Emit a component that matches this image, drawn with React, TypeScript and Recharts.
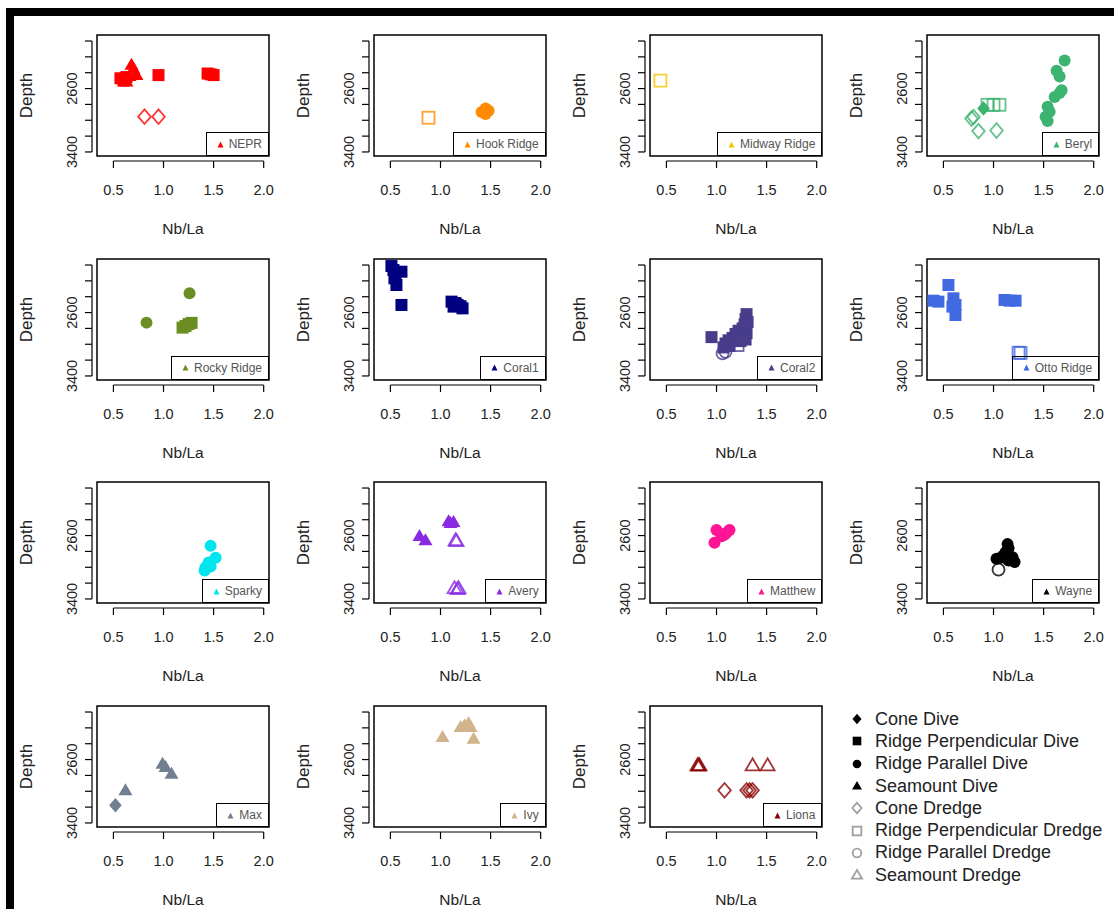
import React from "react";
import { ScatterChart, Scatter, XAxis, YAxis, ReferenceArea, Label } from "recharts";

type Pt = { x: number; y: number; k: string };

// symbol kinds, in legend order
const KINDS = [
  { id: "coneDive", shape: "diamond", filled: true, label: "Cone Dive" },
  { id: "perpDive", shape: "square", filled: true, label: "Ridge Perpendicular Dive" },
  { id: "parDive", shape: "circle", filled: true, label: "Ridge Parallel Dive" },
  { id: "smtDive", shape: "triangle", filled: true, label: "Seamount Dive" },
  { id: "coneDr", shape: "diamond", filled: false, label: "Cone Dredge" },
  { id: "perpDr", shape: "square", filled: false, label: "Ridge Perpendicular Dredge" },
  { id: "parDr", shape: "circle", filled: false, label: "Ridge Parallel Dredge" },
  { id: "smtDr", shape: "triangle", filled: false, label: "Seamount Dredge" },
];

const X_TICKS = [0.5, 1.0, 1.5, 2.0];
const Y_TICKS = [2000, 2200, 2400, 2600, 2800, 3000, 3200, 3400];
const Y_LABELED = [2600, 3400];

const NEPR: Pt[] = [
  { x: 0.57, y: 2470, k: "perpDive" }, { x: 0.6, y: 2500, k: "perpDive" }, { x: 0.63, y: 2455, k: "perpDive" },
  { x: 0.95, y: 2430, k: "perpDive" }, { x: 1.44, y: 2410, k: "perpDive" }, { x: 1.47, y: 2420, k: "perpDive" },
  { x: 1.5, y: 2430, k: "perpDive" },
  { x: 0.68, y: 2300, k: "smtDive" }, { x: 0.7, y: 2350, k: "smtDive" }, { x: 0.63, y: 2510, k: "smtDive" },
  { x: 0.73, y: 2430, k: "smtDive" }, { x: 0.66, y: 2440, k: "smtDive" },
  { x: 0.81, y: 2955, k: "coneDr" }, { x: 0.95, y: 2955, k: "coneDr" },
];
const HOOK: Pt[] = [
  { x: 0.88, y: 2968, k: "perpDr" },
  { x: 1.41, y: 2895, k: "parDive" }, { x: 1.45, y: 2850, k: "parDive" }, { x: 1.48, y: 2880, k: "parDive" },
  { x: 1.45, y: 2920, k: "parDive" },
];
const MIDWAY: Pt[] = [{ x: 0.44, y: 2500, k: "perpDr" }];
const BERYL: Pt[] = [
  { x: 1.71, y: 2247, k: "parDive" }, { x: 1.63, y: 2376, k: "parDive" }, { x: 1.66, y: 2449, k: "parDive" },
  { x: 1.66, y: 2655, k: "parDive" }, { x: 1.68, y: 2620, k: "parDive" }, { x: 1.61, y: 2707, k: "parDive" },
  { x: 1.54, y: 2828, k: "parDive" }, { x: 1.56, y: 2892, k: "parDive" }, { x: 1.52, y: 2956, k: "parDive" },
  { x: 1.54, y: 3008, k: "parDive" },
  { x: 0.9, y: 2850, k: "coneDive" },
  { x: 0.78, y: 2978, k: "coneDr" }, { x: 0.8, y: 2960, k: "coneDr" }, { x: 0.85, y: 3137, k: "coneDr" },
  { x: 1.03, y: 3129, k: "coneDr" },
  { x: 0.94, y: 2805, k: "perpDr" }, { x: 1.0, y: 2805, k: "perpDr" }, { x: 1.06, y: 2805, k: "perpDr" },
];
const ROCKY: Pt[] = [
  { x: 1.26, y: 2357, k: "parDive" }, { x: 0.83, y: 2727, k: "parDive" },
  { x: 1.19, y: 2790, k: "perpDive" }, { x: 1.22, y: 2770, k: "perpDive" }, { x: 1.25, y: 2745, k: "perpDive" },
  { x: 1.28, y: 2730, k: "perpDive" },
];
const CORAL1: Pt[] = [
  { x: 0.51, y: 2013, k: "perpDive" }, { x: 0.53, y: 2063, k: "perpDive" }, { x: 0.55, y: 2105, k: "perpDive" },
  { x: 0.61, y: 2084, k: "perpDive" }, { x: 0.54, y: 2168, k: "perpDive" }, { x: 0.56, y: 2252, k: "perpDive" },
  { x: 0.61, y: 2504, k: "perpDive" }, { x: 1.11, y: 2462, k: "perpDive" }, { x: 1.15, y: 2480, k: "perpDive" },
  { x: 1.17, y: 2504, k: "perpDive" }, { x: 1.22, y: 2547, k: "perpDive" }, { x: 1.13, y: 2525, k: "perpDive" },
  { x: 1.2, y: 2520, k: "perpDive" },
];
const CORAL2: Pt[] = [
  { x: 0.95, y: 2910, k: "perpDive" }, { x: 1.07, y: 3040, k: "perpDive" }, { x: 1.09, y: 2990, k: "perpDive" },
  { x: 1.12, y: 2950, k: "perpDive" }, { x: 1.16, y: 2920, k: "perpDive" }, { x: 1.19, y: 2870, k: "perpDive" },
  { x: 1.22, y: 2830, k: "perpDive" }, { x: 1.26, y: 2800, k: "perpDive" }, { x: 1.28, y: 2750, k: "perpDive" },
  { x: 1.29, y: 2680, k: "perpDive" }, { x: 1.3, y: 2620, k: "perpDive" }, { x: 1.31, y: 2720, k: "perpDive" },
  { x: 1.3, y: 2860, k: "perpDive" }, { x: 1.29, y: 2940, k: "perpDive" }, { x: 1.13, y: 3020, k: "perpDive" },
  { x: 1.24, y: 2960, k: "perpDive" },
  { x: 1.21, y: 3010, k: "perpDr" },
  { x: 1.06, y: 3115, k: "parDr" }, { x: 1.09, y: 3095, k: "parDr" },
];
const OTTO: Pt[] = [
  { x: 0.4, y: 2450, k: "perpDive" }, { x: 0.45, y: 2462, k: "perpDive" }, { x: 0.55, y: 2252, k: "perpDive" },
  { x: 0.6, y: 2420, k: "perpDive" }, { x: 0.62, y: 2504, k: "perpDive" }, { x: 0.59, y: 2525, k: "perpDive" },
  { x: 0.62, y: 2631, k: "perpDive" }, { x: 1.11, y: 2441, k: "perpDive" }, { x: 1.16, y: 2450, k: "perpDive" },
  { x: 1.22, y: 2450, k: "perpDive" },
  { x: 1.25, y: 3106, k: "perpDr" }, { x: 1.27, y: 3110, k: "perpDr" },
];
const SPARKY: Pt[] = [
  { x: 1.47, y: 2730, k: "parDive" }, { x: 1.52, y: 2880, k: "parDive" }, { x: 1.45, y: 2940, k: "parDive" },
  { x: 1.42, y: 3000, k: "parDive" }, { x: 1.41, y: 3040, k: "parDive" }, { x: 1.47, y: 2990, k: "parDive" },
];
const AVERY: Pt[] = [
  { x: 0.79, y: 2605, k: "smtDive" }, { x: 0.85, y: 2659, k: "smtDive" }, { x: 1.08, y: 2420, k: "smtDive" },
  { x: 1.1, y: 2440, k: "smtDive" }, { x: 1.13, y: 2430, k: "smtDive" },
  { x: 1.15, y: 2659, k: "smtDr" }, { x: 1.16, y: 2670, k: "smtDr" }, { x: 1.14, y: 3264, k: "smtDr" },
  { x: 1.17, y: 3277, k: "smtDr" }, { x: 1.18, y: 3264, k: "smtDr" },
];
const MATTHEW: Pt[] = [
  { x: 0.98, y: 2690, k: "parDive" }, { x: 1.0, y: 2530, k: "parDive" }, { x: 1.05, y: 2610, k: "parDive" },
  { x: 1.1, y: 2565, k: "parDive" }, { x: 1.13, y: 2530, k: "parDive" }, { x: 1.08, y: 2590, k: "parDive" },
];
const WAYNE: Pt[] = [
  { x: 1.14, y: 2708, k: "parDive" }, { x: 1.12, y: 2811, k: "parDive" }, { x: 1.03, y: 2894, k: "parDive" },
  { x: 1.19, y: 2873, k: "parDive" }, { x: 1.21, y: 2935, k: "parDive" }, { x: 1.15, y: 2914, k: "parDive" },
  { x: 1.07, y: 2880, k: "parDive" }, { x: 1.1, y: 2850, k: "parDive" }, { x: 1.15, y: 2760, k: "parDive" },
  { x: 1.05, y: 3030, k: "parDr" },
];
const MAX: Pt[] = [
  { x: 0.52, y: 3177, k: "coneDive" },
  { x: 0.62, y: 2988, k: "smtDive" }, { x: 0.99, y: 2652, k: "smtDive" }, { x: 1.02, y: 2694, k: "smtDive" },
  { x: 1.08, y: 2778, k: "smtDive" },
];
const IVY: Pt[] = [
  { x: 1.02, y: 2315, k: "smtDive" }, { x: 1.2, y: 2189, k: "smtDive" }, { x: 1.24, y: 2168, k: "smtDive" },
  { x: 1.28, y: 2139, k: "smtDive" }, { x: 1.3, y: 2189, k: "smtDive" }, { x: 1.33, y: 2336, k: "smtDive" },
];
const LIONA: Pt[] = [
  { x: 0.81, y: 2673, k: "smtDr" }, { x: 0.82, y: 2673, k: "smtDr" }, { x: 0.83, y: 2673, k: "smtDr" },
  { x: 1.36, y: 2673, k: "smtDr" }, { x: 1.51, y: 2673, k: "smtDr" },
  { x: 1.08, y: 2988, k: "coneDr" }, { x: 1.3, y: 2988, k: "coneDr" }, { x: 1.33, y: 2988, k: "coneDr" },
  { x: 1.36, y: 2988, k: "coneDr" },
];

const SITES = [
  { name: "NEPR", color: "#FF0000", points: NEPR },
  { name: "Hook Ridge", color: "#FF8C00", points: HOOK },
  { name: "Midway Ridge", color: "#F2C500", points: MIDWAY },
  { name: "Beryl", color: "#3CB371", points: BERYL },
  { name: "Rocky Ridge", color: "#6B8E23", points: ROCKY },
  { name: "Coral1", color: "#000080", points: CORAL1 },
  { name: "Coral2", color: "#483D8B", points: CORAL2 },
  { name: "Otto Ridge", color: "#4169E1", points: OTTO },
  { name: "Sparky", color: "#00E5EE", points: SPARKY },
  { name: "Avery", color: "#8A2BE2", points: AVERY },
  { name: "Matthew", color: "#FF1493", points: MATTHEW },
  { name: "Wayne", color: "#000000", points: WAYNE },
  { name: "Max", color: "#708090", points: MAX },
  { name: "Ivy", color: "#D2B48C", points: IVY },
  { name: "Liona", color: "#8B0000", points: LIONA },
];

const FONT = "'Liberation Sans', Arial, sans-serif";
const X_DOMAIN: [number, number] = [0.336, 2.053];
const Y_DOMAIN: [number, number] = [1924, 3451];
const PLOT_W = 172;
const PLOT_H = 121;
const CHART_W = 277;
const CHART_H = 224;
const MARGIN = { top: 20, right: 25, bottom: 0, left: 20 };
const X_STEP = (PLOT_W / (X_DOMAIN[1] - X_DOMAIN[0])) * 0.5;
const Y_STEP = (PLOT_H / (Y_DOMAIN[1] - Y_DOMAIN[0])) * 200;
const GAP = 5;
const TICK = 7;

const Marker = ({ cx, cy, shape, filled, color, scale = 1 }: any) => {
  const fill = filled ? color : "none";
  const stroke = color;
  const sw = filled ? 0 : 1.8;
  const op = filled ? 1 : 0.8;
  if (shape === "diamond") {
    const a = 6.3 * scale, b = 7.3 * scale;
    return <polygon points={`${cx},${cy - b} ${cx + a},${cy} ${cx},${cy + b} ${cx - a},${cy}`} fill={fill} stroke={stroke} strokeWidth={sw} strokeOpacity={op} />;
  }
  if (shape === "square") {
    const h = 6 * scale;
    return <rect x={cx - h} y={cy - h} width={2 * h} height={2 * h} fill={fill} stroke={stroke} strokeWidth={sw} strokeOpacity={op} />;
  }
  if (shape === "circle") {
    return <circle cx={cx} cy={cy} r={6 * scale} fill={fill} stroke={stroke} strokeWidth={sw} strokeOpacity={op} />;
  }
  const w = 7 * scale;
  return <polygon points={`${cx},${cy - 7 * scale} ${cx - w},${cy + 5 * scale} ${cx + w},${cy + 5 * scale}`} fill={fill} stroke={stroke} strokeWidth={sw} strokeOpacity={op} strokeLinejoin="miter" />;
};

const XTick = ({ x, y, payload }: any) => {
  const v = payload.value;
  return (
    <g>
      {v < 2 && <line x1={x} y1={y + GAP} x2={x + X_STEP} y2={y + GAP} stroke="#000" strokeWidth={1.2} />}
      <line x1={x} y1={y + GAP} x2={x} y2={y + GAP + TICK} stroke="#000" strokeWidth={1.2} />
      <text x={x} y={y + 33.5} textAnchor="middle" dominantBaseline="central" fontSize={14.5} fill="#222" fontFamily={FONT}>
        {v.toFixed(1)}
      </text>
    </g>
  );
};

const YTick = ({ x, y, payload }: any) => {
  const v = payload.value;
  return (
    <g>
      {v < 3400 && <line x1={x - GAP} y1={y} x2={x - GAP} y2={y + Y_STEP} stroke="#000" strokeWidth={1.2} />}
      <line x1={x - GAP} y1={y} x2={x - GAP - TICK} y2={y} stroke="#000" strokeWidth={1.2} />
      {Y_LABELED.includes(v) && (
        <text transform={`translate(${x - 25.5},${y}) rotate(-90)`} textAnchor="middle" dominantBaseline="central" fontSize={14.5} fill="#222" fontFamily={FONT}>
          {v}
        </text>
      )}
    </g>
  );
};

const XTitle = (p: any) => {
  const vb = p.viewBox;
  return (
    <text x={vb.x + vb.width / 2} y={vb.y + 72.5} textAnchor="middle" dominantBaseline="central" fontSize={15.5} fill="#222" fontFamily={FONT}>
      Nb/La
    </text>
  );
};

const YTitle = (p: any) => {
  const vb = p.viewBox;
  const cx = vb.x + vb.width - 71;
  const cy = vb.y + vb.height / 2;
  return (
    <text transform={`translate(${cx},${cy}) rotate(-90)`} textAnchor="middle" dominantBaseline="central" fontSize={17} fill="#222" fontFamily={FONT}>
      Depth
    </text>
  );
};

const Panel = ({ site, col, row }: any) => (
  <div style={{ position: "absolute", left: 17 + col * 276.7, top: 15 + row * 223.7, width: CHART_W, height: CHART_H }}>
    <ScatterChart width={CHART_W} height={CHART_H} margin={MARGIN}>
      <XAxis type="number" dataKey="x" domain={X_DOMAIN} ticks={X_TICKS} interval={0} allowDataOverflow height={83}
        axisLine={false} tickLine={false} tickSize={0} tickMargin={0} tick={<XTick />}>
        <Label content={<XTitle />} />
      </XAxis>
      <YAxis type="number" dataKey="y" domain={Y_DOMAIN} ticks={Y_TICKS} interval={0} allowDataOverflow reversed width={60}
        axisLine={false} tickLine={false} tickSize={0} tickMargin={0} tick={<YTick />}>
        <Label content={<YTitle />} />
      </YAxis>
      <ReferenceArea x1={X_DOMAIN[0]} x2={X_DOMAIN[1]} y1={Y_DOMAIN[0]} y2={Y_DOMAIN[1]} fill="none" stroke="#000" strokeWidth={1.5} fillOpacity={0} ifOverflow="visible" />
      {KINDS.map((kd) => (
        <Scatter key={kd.id} data={site.points.filter((p: Pt) => p.k === kd.id)} isAnimationActive={false}
          shape={(p: any) => <Marker cx={p.cx} cy={p.cy} shape={kd.shape} filled={kd.filled} color={site.color} />} />
      ))}
    </ScatterChart>
    <div style={{ position: "absolute", right: MARGIN.right, bottom: CHART_H - MARGIN.top - PLOT_H, height: 24, boxSizing: "border-box",
      border: "1.5px solid #000", display: "flex", alignItems: "center", padding: "0 6px 0 10px", fontFamily: FONT, fontSize: 12, color: "#555", whiteSpace: "nowrap" }}>
      <svg width={7} height={7} style={{ marginRight: 5 }}>
        <polygon points="3.5,0.5 0.5,6.5 6.5,6.5" fill={site.color} />
      </svg>
      {site.name}
    </div>
  </div>
);

const KeyLegend = () => (
  <div style={{ position: "absolute", left: 848, top: 708, fontFamily: FONT, fontSize: 18, color: "#222" }}>
    {KINDS.map((kd) => (
      <div key={kd.id} style={{ height: 22.3, display: "flex", alignItems: "center" }}>
        <svg width={20} height={16} style={{ marginRight: 7 }}>
          <Marker cx={9} cy={8} shape={kd.shape} filled={kd.filled} color={kd.filled ? "#000" : "#888"} scale={0.72} />
        </svg>
        {kd.label}
      </div>
    ))}
  </div>
);

export default function App() {
  return (
    <div style={{ position: "absolute", left: 0, top: 0, width: 1114, height: 909, overflow: "hidden", background: "#fff" }}>
      <div style={{ position: "absolute", left: 6, top: 8, width: 1108, height: 901, boxSizing: "border-box", borderTop: "8px solid #000", borderLeft: "8px solid #000" }} />
      {SITES.map((s, i) => (
        <Panel key={s.name} site={s} col={i % 4} row={Math.floor(i / 4)} />
      ))}
      <KeyLegend />
    </div>
  );
}
